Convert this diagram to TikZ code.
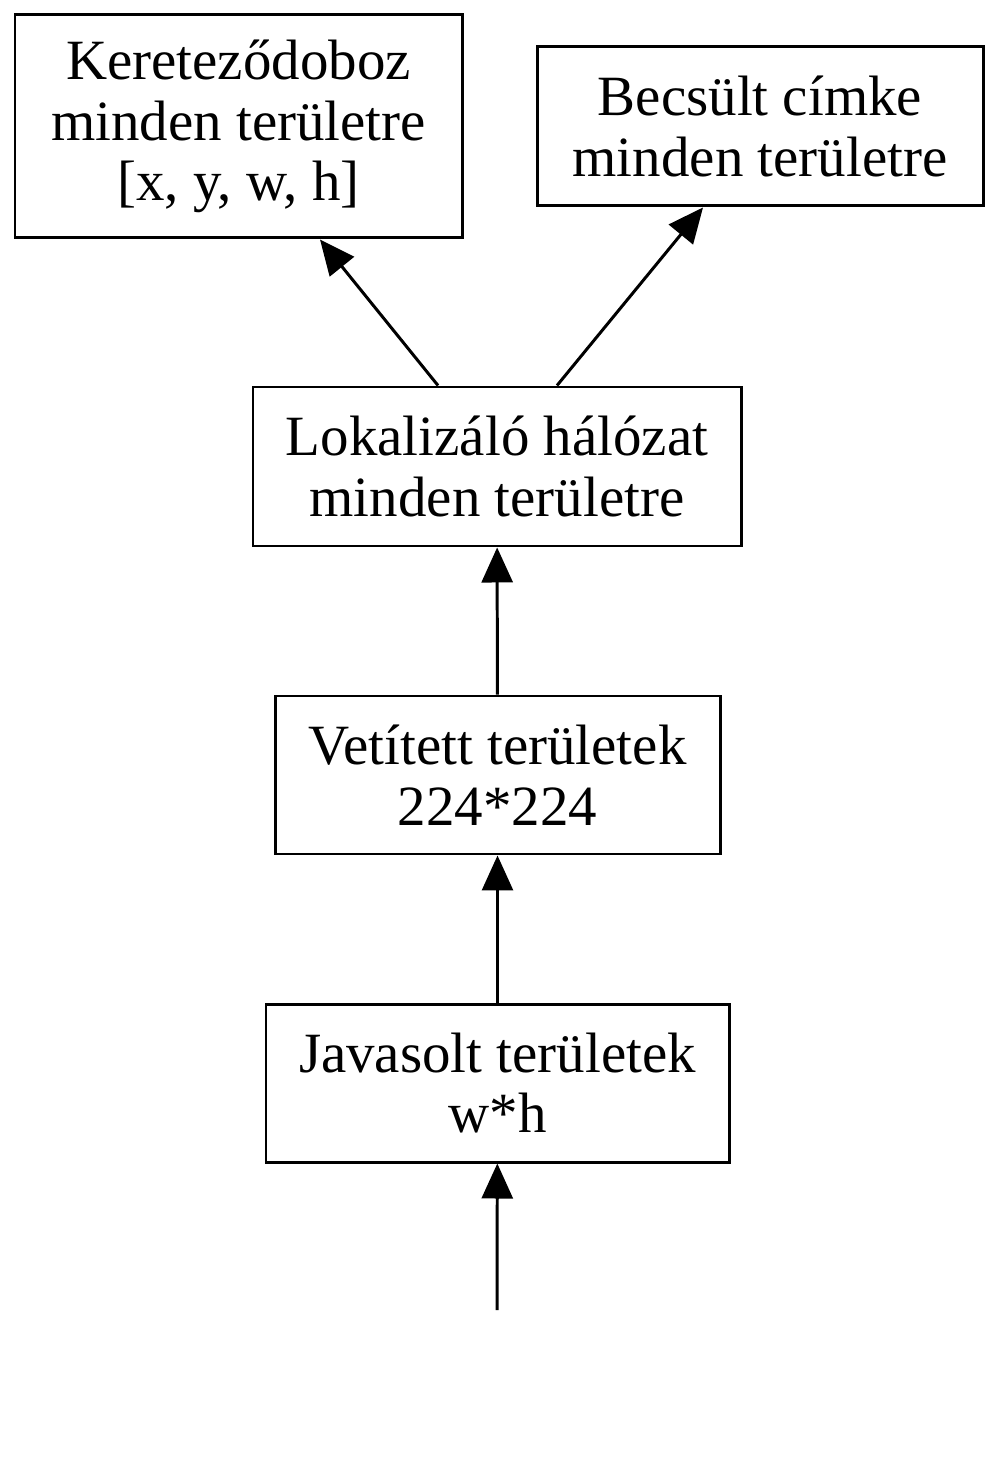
\documentclass[tikz,border=0pt]{standalone}
\usepackage{fontspec}
\setmainfont{Liberation Serif}
\usepackage{tikz}
\usetikzlibrary{arrows.meta,positioning,calc}

\tikzset{
  box/.style={draw,line width=0.85pt,align=center,inner sep=0pt,
    font=\fontsize{16.2}{17.2}\selectfont},
  link/.style={line width=0.85pt,-{Triangle[length=3.5mm,width=3.1mm]}}
}

\begin{document}
\begin{tikzpicture}
  \useasboundingbox (0,0) rectangle (10,-14.79);
  % boxes
  \node[box,minimum width=4.47cm,minimum height=2.23cm] (bbox) at (2.385,-1.265)
    {Kereteződoboz\\minden területre\\{[x, y, w, h]}};
  \node[box,minimum width=4.46cm,minimum height=1.59cm] (label) at (7.60,-1.265)
    {Becsült címke\\minden területre};
  \node[box,minimum width=4.88cm,minimum height=1.59cm] (locnet) at (4.97,-4.665)
    {Lokalizáló hálózat\\minden területre};
  \node[box,minimum width=4.45cm,minimum height=1.58cm] (warped) at (4.975,-7.75)
    {Vetített területek\\224*224};
  \node[box,minimum width=4.63cm,minimum height=1.58cm] (proposals) at (4.975,-10.83)
    {Javasolt területek\\w*h};
  \coordinate (input) at (4.97,-13.10);
  % connectors
  \draw[link] (input) -- (proposals);
  \draw[link] (proposals) -- (warped);
  \draw[link] (warped) -- (locnet);
  \draw[link] ([xshift=-0.59cm]locnet.north) -- ([xshift=0.815cm]bbox.south);
  \draw[link] ([xshift=0.60cm]locnet.north) -- ([xshift=-0.57cm]label.south);
\end{tikzpicture}
\end{document}
